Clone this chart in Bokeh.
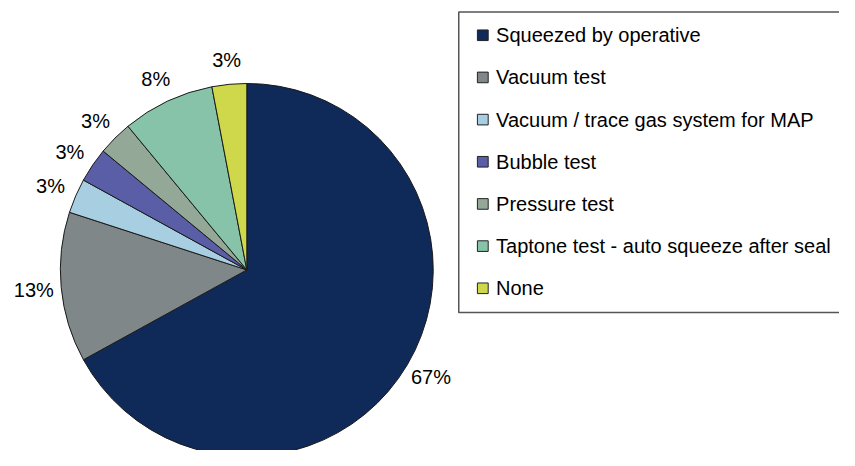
import numpy as np
from bokeh.plotting import figure
from bokeh.models import ColumnDataSource, Range1d
from bokeh.core.properties import value
from bokeh.embed import file_html
from bokeh.resources import INLINE

# ---- data ----
categories = ["Squeezed by operative", "Vacuum test", "Vacuum / trace gas system for MAP",
              "Bubble test", "Pressure test", "Taptone test - auto squeeze after seal", "None"]
values = [67, 13, 3, 3, 3, 8, 3]
colors = ["#0F2958", "#7F8789", "#A7CFE1", "#5A5EA7", "#94A898", "#87C3A8", "#CFD84B"]

# ---- geometry (data coordinates follow the 855x466 reference: x = px, y = 466 - px) ----
W, H = 839, 450
cx, cy, R = 251, 466 - 279, 190
label_dist = 218

vals = np.array(values, dtype=float)
frac = vals / vals.sum()
cum = np.concatenate([[0], np.cumsum(frac)])
start = np.pi / 2 - 2 * np.pi * cum[:-1]
end = np.pi / 2 - 2 * np.pi * cum[1:]
mid = (start + end) / 2

src = ColumnDataSource(dict(start=start, end=end, color=colors, cat=categories))

p = figure(width=W, height=H, output_backend="svg", toolbar_location=None,
           x_range=Range1d(0, 855), y_range=Range1d(0, 466),
           x_axis_location=None, y_axis_location=None, min_border=0,
           background_fill_color="white", border_fill_color="white")
p.grid.visible = False
p.outline_line_color = None

p.wedge(x=cx, y=cy, radius=R, start_angle="start", end_angle="end", direction="clock",
        fill_color="color", line_color="#1a1a1a", line_width=1, source=src)

lab = ColumnDataSource(dict(
    x=cx + label_dist * np.cos(mid),
    y=cy + label_dist * np.sin(mid),
    t=[f"{v:.0f}%" for v in vals]))
p.text(x="x", y="y", text="t", source=lab, text_align="center", text_baseline="middle",
       text_font=value("Liberation Sans"), text_font_size="20px", text_color="#000000")

# ---- legend box ----
p.quad(left=467, right=950, top=466 - 12, bottom=466 - 323, fill_color="white",
       line_color="#555555", line_width=1.5)

row_y = [466 - (36 + i * 43.67) for i in range(len(categories))]
leg = ColumnDataSource(dict(y=row_y, color=colors, cat=categories))
p.rect(x=491.5, y="y", width=11, height=11, fill_color="color", line_color="#222222",
       line_width=1, source=leg)
p.text(x=505, y="y", text="cat", source=leg, text_align="left", text_baseline="middle",
       text_font=value("Liberation Sans"), text_font_size="20px", text_color="#000000")

open("out.html", "w").write(file_html(p, INLINE))
